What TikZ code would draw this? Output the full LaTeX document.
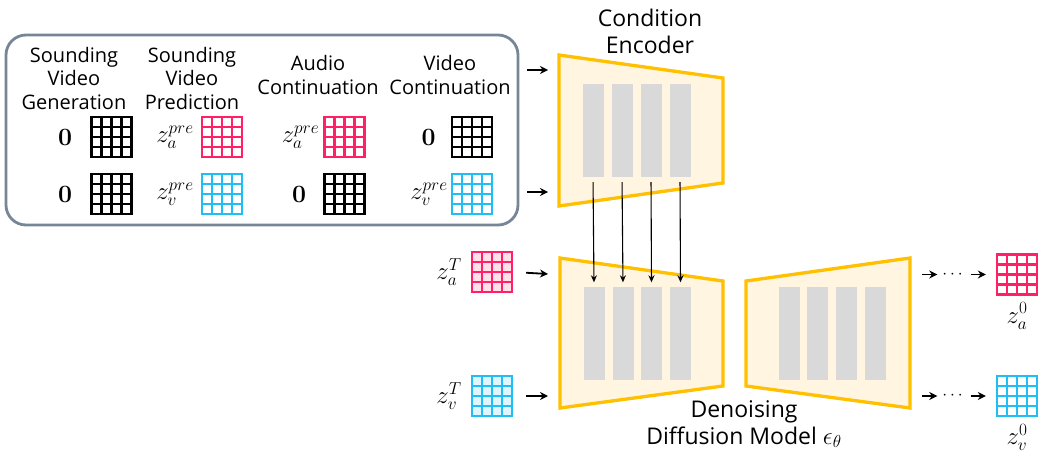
\documentclass[tikz,border=0pt]{standalone}
\usepackage[no-math]{fontspec}
\setmainfont{Open Sans}
\usepackage{amsmath,amssymb}
\usetikzlibrary{arrows.meta,positioning,calc}
\definecolor{zpink}{HTML}{FF2068}
\definecolor{zblue}{HTML}{1FBFF5}
\definecolor{zpinkfill}{HTML}{FFE1EB}
\definecolor{zbluefill}{HTML}{E1F5FD}
\definecolor{coderline}{HTML}{FFC000}
\definecolor{coderfill}{HTML}{FFF5E1}
\definecolor{barfill}{HTML}{D9D9D9}
\definecolor{boxline}{HTML}{768696}

\begin{document}
\begin{tikzpicture}[x=1pt,y=-1pt,>={Stealth[length=8pt,width=8pt]},font=\fontsize{20}{23.5}\selectfont,
  latent/.style={draw=#1,line width=2.3pt,minimum size=40pt,inner sep=0pt,fill=white,
    path picture={\foreach \k in {1,2,3}{
      \draw[#1,line width=2.3pt] ($(path picture bounding box.north west)!\k/4!(path picture bounding box.north east)$)
        -- ($(path picture bounding box.south west)!\k/4!(path picture bounding box.south east)$);
      \draw[#1,line width=2.3pt] ($(path picture bounding box.north west)!\k/4!(path picture bounding box.south west)$)
        -- ($(path picture bounding box.north east)!\k/4!(path picture bounding box.south east)$);}}},
  bar/.style={fill=barfill,minimum width=21pt,minimum height=93pt,inner sep=0pt},
  coder/.style={draw=coderline,fill=coderfill,line width=3.3pt,line join=miter},
  feed/.style={->,line width=1.8pt},
  lbl/.style={inner sep=0pt,font=\fontsize{23}{23}\selectfont},
  head/.style={align=center,inner sep=0pt},
  title/.style={align=center,inner sep=0pt,font=\fontsize{23}{27}\selectfont}]
\useasboundingbox (0,0) rectangle (1038,452);

% task box
\draw[boxline,line width=2.8pt,rounded corners=20pt] (6,35) rectangle (518,225);
\node[head] (hgen) at (74,78) {Sounding\\Video\\Generation};
\node[head] (hpred) at (192,78) {Sounding\\Video\\Prediction};
\node[head] (haud) at (318,75) {Audio\\Continuation};
\node[head] (hvid) at (450,75) {Video\\Continuation};

\node[latent=black] (g11) at (111.5,137) {};
\node[latent=black] (g12) at (111.5,194) {};
\node[latent=zpink] (g21) at (222,137) {};
\node[latent=zblue] (g22) at (222,194) {};
\node[latent=zpink] (g31) at (344.5,137) {};
\node[latent=black] (g32) at (344.5,194) {};
\node[latent=black] (g41) at (472,137) {};
\node[latent=zblue] (g42) at (472,194) {};

\node[lbl,left=18pt of g11] (l11) {$\mathbf{0}$};
\node[lbl,left=18pt of g12] (l12) {$\mathbf{0}$};
\node[lbl,left=7pt of g21] (l21) {$z_a^{pre}$};
\node[lbl,left=7pt of g22] (l22) {$z_v^{pre}$};
\node[lbl,left=4pt of g31] (l31) {$z_a^{pre}$};
\node[lbl,left=17pt of g32] (l32) {$\mathbf{0}$};
\node[lbl,left=15pt of g41] (l41) {$\mathbf{0}$};
\node[lbl,left=3pt of g42] (l42) {$z_v^{pre}$};

% condition encoder
\node[title] (cond) at (650,31) {Condition\\Encoder};
\draw[coder] (559,55) -- (723,78) -- (723,183) -- (559,206) -- cycle;
\foreach \i/\x in {1/593,2/622,3/651,4/680}
  \node[bar] (ce\i) at (\x,130.5) {};
\coordinate (src1) at (527,70);
\coordinate (ce-in1) at (548,70);
\coordinate (src2) at (527,192);
\coordinate (ce-in2) at (548,192);
\draw[feed] (src1) -- (ce-in1);
\draw[feed] (src2) -- (ce-in2);

% denoising model
\draw[coder] (560,258) -- (723,281) -- (723,386) -- (560,408) -- cycle;
\draw[coder] (746,281) -- (910,258) -- (910,408) -- (746,386) -- cycle;
\foreach \i/\x in {1/594,2/623,3/651.5,4/680.5}
  \node[bar] (dn\i) at (\x,333) {};
\foreach \i/\x in {1/789.5,2/817.5,3/846.5,4/875.5}
  \node[bar] (up\i) at (\x,333) {};
\foreach \i in {1,...,4}
  \draw[->,>={Stealth[length=7pt,width=6pt]},line width=1.1pt,shorten <=5pt,shorten >=4pt] (ce\i.south) -- (dn\i.north);
\node[title] (deno) at (744,424) {Denoising\\Diffusion Model $\epsilon_\theta$};

% noisy latents
\node[latent=zpink,fill=zpinkfill] (zaT) at (492,272) {};
\node[latent=zblue,fill=zbluefill] (zvT) at (492,396) {};
\node[lbl,left=9pt of zaT] (lzaT) {$z_a^T$};
\node[lbl,left=9pt of zvT] (lzvT) {$z_v^T$};
\coordinate (dn-ina) at (548,274);
\coordinate (dn-inv) at (548,396);
\draw[feed,shorten <=13pt] (zaT.east) -- (dn-ina);
\draw[feed,shorten <=13pt] (zvT.east) -- (dn-inv);

% outputs
\node[latent=zpink] (za0) at (1017,274.5) {};
\node[latent=zblue] (zv0) at (1017,396) {};
\node[lbl,below=7pt of za0] (lza0) {$z_a^0$};
\node[lbl,below=7pt of zv0] (lzv0) {$z_v^0$};
\node[inner sep=0pt,font=\fontsize{16}{16}\selectfont] (dotsa) at (954,274.5) {$\cdots$};
\node[inner sep=0pt,font=\fontsize{16}{16}\selectfont] (dotsv) at (954,396) {$\cdots$};
\coordinate (dn-outa) at (922,274.5);
\coordinate (dn-outv) at (922,396);
\draw[feed,shorten >=5pt] (dn-outa) -- (dotsa.west);
\draw[feed,shorten >=5pt] (dn-outv) -- (dotsv.west);
\draw[feed,shorten <=5pt,shorten >=10pt] (dotsa.east) -- (za0.west);
\draw[feed,shorten <=5pt,shorten >=10pt] (dotsv.east) -- (zv0.west);
\end{tikzpicture}
\end{document}
